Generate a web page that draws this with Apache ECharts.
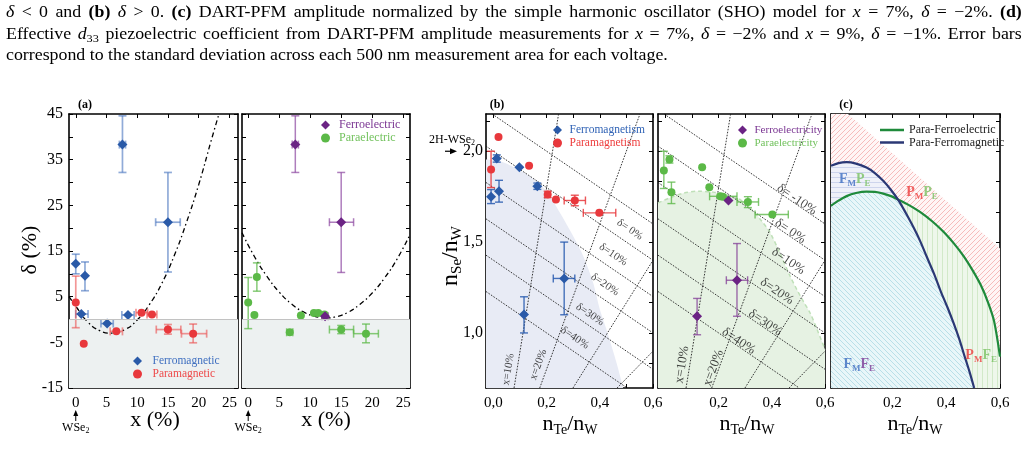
<!DOCTYPE html>
<html>
<head>
<meta charset="utf-8">
<title>Multiferroic phase diagrams</title>
<script src="https://cdn.jsdelivr.net/npm/echarts@6.0.0/dist/echarts.min.js"></script>
<style>
  html, body { margin: 0; padding: 0; background: #fff; }
  #chart { position: absolute; left: 0; top: 0; width: 1028px; height: 472px; }
  .cap { position: absolute; left: 6px; width: 911px; font-family: 'Liberation Serif', serif; font-size: 16px; line-height: 21px; color: #000; white-space: nowrap; transform: scaleX(1.115); transform-origin: 0 0; }
  .just { text-align: justify; text-align-last: justify; white-space: normal; }
  .cap sub { font-size: 11px; line-height: 0; vertical-align: -3px; }
</style>
</head>
<body>
<div id="chart"></div>
<div class="cap just" style="top:1px"><i>δ</i> &lt; 0 and <b>(b)</b> <i>δ</i> &gt; 0. <b>(c)</b> DART-PFM amplitude normalized by the simple harmonic oscillator (SHO) model for <i>x</i> = 7%, <i>δ</i> = −2%. <b>(d)</b></div>
<div class="cap just" style="top:23px">Effective <i>d</i><sub>33</sub> piezoelectric coefficient from DART-PFM amplitude measurements for <i>x</i> = 7%, <i>δ</i> = −2% and <i>x</i> = 9%, <i>δ</i> = −1%. Error bars</div>
<div class="cap" style="top:44px">correspond to the standard deviation across each 500 nm measurement area for each voltage.</div>
<script>
// ---------- panel (a): x (%) vs delta (%) ----------
// rows: x, delta, xLo, xHi, deltaLo, deltaHi  (null = no bar)
const ferromagA = [
  [0.0, 12.2, null, null, 10.0, 14.3],
  [1.5, 9.6, null, null, 6.3, 12.6],
  [0.9, 1.2, 0.0, 2.0, null, null],
  [5.1, -0.9, 4.1, 6.1, null, null],
  [8.5, 1.0, 7.5, 9.5, null, null],
  [7.6, 38.3, 7.1, 8.1, 32.2, 44.6],
  [15.0, 21.3, 13.0, 17.0, 10.4, 32.2]
];
const paramagA = [
  [0.0, 3.7, null, null, -1.8, 9.5],
  [1.3, -5.3, null, null, null, null],
  [6.6, -2.6, 5.6, 7.6, null, null],
  [10.7, 1.5, 9.8, 11.7, null, null],
  [12.4, 1.1, 11.6, 13.2, null, null],
  [15.0, -2.2, 13.1, 17.1, -3.2, -1.1],
  [19.1, -3.1, 17.2, 21.3, -5.1, -1.0]
];
const ferroelA = [
  [7.6, 38.3, 7.1, 8.1, 32.2, 44.6],
  [15.0, 21.3, 13.1, 17.0, 10.3, 32.2],
  [12.4, 0.7, 11.9, 12.9, null, null]
];
const paraelA = [
  [0.0, 3.7, null, null, -2.0, 9.2],
  [1.4, 9.3, null, null, 6.2, 12.4],
  [1.0, 1.0, null, null, null, null],
  [6.7, -2.8, 6.2, 7.2, null, null],
  [8.5, 0.9, null, null, null, null],
  [10.6, 1.4, null, null, null, null],
  [11.3, 1.4, null, null, null, null],
  [12.3, 1.1, null, null, null, null],
  [15.0, -2.2, 13.1, 17.0, -3.1, -1.3],
  [19.0, -3.1, 17.0, 21.0, -5.1, -1.0]
];
// dash-dot guide curves
const guideMag = [[-1.1, 5.0], [0, 2.9], [2, -0.6], [4, -2.5], [5.7, -3.0], [8, -2.2], [10, -0.1],
  [12, 3.3], [14, 7.9], [16, 13.9], [18, 21.2], [20, 29.5], [22, 39.0], [23.3, 45]];
const guideEl = [[-1.0, 19.0], [1, 13.8], [3, 9.5], [5, 6.0], [7, 3.4], [9, 1.6], [11, 0.6], [12.6, 0.35],
  [14, 0.55], [16, 1.5], [18, 3.3], [20, 5.8], [22, 9.1], [24, 13.2], [26.1, 18.6]];

// ---------- panel (b): nTe/nW vs nSe/nW ----------
const ferromagB = [
  [0.0125, 1.960, null, null, 1.94, 1.98],
  [0.0975, 1.912, null, null, null, null],
  [0.165, 1.807, null, null, 1.79, 1.825],
  [-0.009, 1.749, null, null, 1.712, 1.789],
  [0.021, 1.780, null, null, 1.72, 1.84],
  [0.266, 1.300, 0.225, 0.306, 1.10, 1.50],
  [0.115, 1.101, null, null, 1.00, 1.199]
];
const paramagB = [
  [0.019, 2.079, null, null, null, null],
  [-0.009, 1.899, null, null, 1.80, 2.00],
  [0.134, 1.920, null, null, null, null],
  [0.204, 1.762, null, null, 1.745, 1.78],
  [0.235, 1.734, null, null, null, null],
  [0.306, 1.729, 0.266, 0.346, 1.70, 1.758],
  [0.398, 1.661, 0.338, 0.460, null, null]
];
const ferroelB = [
  [0.237, 1.729, null, null, null, null],
  [0.269, 1.290, 0.229, 0.309, 1.092, 1.492],
  [0.119, 1.092, null, null, 0.99, 1.19]
];
const paraelB = [
  [0.015, 1.954, null, null, 1.935, 1.975],
  [-0.006, 1.894, null, null, 1.795, 2.0],
  [0.138, 1.912, null, null, null, null],
  [0.0225, 1.774, null, null, 1.712, 1.83],
  [0.165, 1.802, null, null, null, null],
  [0.206, 1.752, 0.166, 0.269, null, null],
  [0.216, 1.749, null, null, null, null],
  [0.310, 1.721, 0.269, 0.350, 1.69, 1.75],
  [0.402, 1.652, 0.337, 0.462, null, null]
];
const magShade = [[-0.028, 1.955], [0.025, 1.945], [0.08, 1.91], [0.137, 1.862], [0.2, 1.78], [0.25, 1.661],
  [0.3, 1.532], [0.338, 1.422], [0.375, 1.276], [0.4, 1.129], [0.425, 1.019], [0.463, 0.835], [0.488, 0.697]];
const elShade = [[-0.028, 1.716], [0.02, 1.745], [0.07, 1.77], [0.125, 1.78], [0.18, 1.775], [0.23, 1.76],
  [0.281, 1.734], [0.33, 1.67], [0.365, 1.61], [0.394, 1.551], [0.43, 1.44], [0.469, 1.312], [0.494, 1.239],
  [0.52, 1.17], [0.544, 1.11], [0.57, 1.02], [0.6, 0.909]];
// constant-delta and constant-x guide lines (end points)
const deltaLines = [
  [[-0.005, 2.205], [0.6, 1.6]],
  [[-0.028, 2.028], [0.6, 1.4]],
  [[-0.028, 1.828], [0.6, 1.2]],
  [[-0.028, 1.628], [0.6, 1.0]],
  [[-0.028, 1.428], [0.6, 0.8]],
  [[-0.028, 1.228], [0.503, 0.697]]
];
const xLines = [
  [[0.0775, 0.697], [0.245, 2.205]],
  [[0.174, 0.697], [0.551, 2.205]],
  [[0.299, 0.697], [0.6, 1.4]],
  [[0.465, 0.697], [0.6, 0.9]]
];
// label: x, y, text, rotation
const lineLabelsL = [
  [0.513, 1.569, 'δ= 0%', -34], [0.45, 1.431, 'δ=10%', -34], [0.419, 1.266, 'δ=20%', -34],
  [0.363, 1.101, 'δ=30%', -34], [0.306, 0.973, 'δ=40%', -34],
  [0.056, 0.80, 'x=10%', 81], [0.169, 0.826, 'x=20%', 70]
];
const lineLabelsR = [
  [0.494, 1.734, 'δ= -10%', -34], [0.469, 1.56, 'δ= 0%', -34], [0.462, 1.395, 'δ=10%', -34],
  [0.419, 1.229, 'δ=20%', -34], [0.375, 1.056, 'δ=30%', -34], [0.275, 0.955, 'δ=40%', -34],
  [0.0625, 0.826, 'x=10%', 81], [0.181, 0.808, 'x=20%', 70]
];

// ---------- panel (c): phase boundaries ----------
const paraFerromag = [[-0.028, 1.92], [0.0, 1.935], [0.03, 1.94], [0.065, 1.932], [0.104, 1.91], [0.135, 1.88],
  [0.166, 1.837], [0.195, 1.787], [0.223, 1.73], [0.25, 1.66], [0.279, 1.58], [0.305, 1.5], [0.329, 1.415],
  [0.355, 1.325], [0.379, 1.232], [0.405, 1.14], [0.429, 1.048], [0.45, 0.96], [0.466, 0.883], [0.486, 0.79], [0.504, 0.697]];
const paraFerroel = [[-0.028, 1.70], [0.0, 1.728], [0.03, 1.753], [0.065, 1.77], [0.104, 1.778], [0.135, 1.776],
  [0.166, 1.767], [0.195, 1.753], [0.223, 1.733], [0.26, 1.705], [0.304, 1.665], [0.35, 1.612], [0.391, 1.555],
  [0.43, 1.49], [0.466, 1.42], [0.5, 1.34], [0.529, 1.262], [0.555, 1.17], [0.578, 1.065], [0.6, 0.87]];
const crossIdx = 8;                       // both curves meet at nTe/nW = 0.223
const stabilityEdge = [[0.035, 2.205], [0.6, 1.465]];

// ---------- axes ----------
const aXTicks = [0, 5, 10, 15, 20, 25];
const aYTicks = [-15, -10, -5, 0, 5, 10, 15, 20, 25, 30, 35, 40, 45];
const aYLabels = [-15, -5, 5, 15, 25, 35, 45];
const bXTicks = [0, 0.1, 0.2, 0.3, 0.4, 0.5, 0.6];
const bYTicks = [0.8333, 1.0, 1.1667, 1.3333, 1.5, 1.6667, 1.8333, 2.0, 2.1667];
const bYLabels = [1.0, 1.5, 2.0];

const SERIF = 'Liberation Serif';
const BLUE = '#2a5aa8', RED = '#e8383c', GREEN = '#5bb947', PURPLE = '#6b2384';
const DIAMOND = 'path://M0,-5L5,0L0,5L-5,0Z';

const grids = [
  {left: 69, top: 114, width: 169, height: 274},
  {left: 242, top: 114, width: 168, height: 274},
  {left: 486, top: 114, width: 167, height: 274},
  {left: 658, top: 114, width: 167, height: 274},
  {left: 831, top: 114, width: 169, height: 274}
];

const xAxis = [], yAxis = [];
const frameLine = {show: true, onZero: false, lineStyle: {color: '#000', width: 1.6}};
function ticks(vals) {
  return {show: true, inside: true, length: 4, customValues: vals, lineStyle: {color: '#000', width: 1}};
}
const fmtA = v => String(Math.round(v));
const fmtB = v => v.toFixed(1).replace('.', ',');
function frame(gi, xr, yr, xt, xl, yt, yl, fmt, yMargin) {
  xAxis.push({gridIndex: gi, type: 'value', position: 'bottom', min: xr[0], max: xr[1], axisLine: frameLine,
    splitLine: {show: false}, axisTick: ticks(xt),
    axisLabel: {show: xl.length > 0, customValues: xl, formatter: fmt, margin: 8, fontFamily: SERIF, fontSize: 15, color: '#000'}});
  xAxis.push({gridIndex: gi, type: 'value', position: 'top', min: xr[0], max: xr[1], axisLine: frameLine,
    splitLine: {show: false}, axisTick: ticks(xt), axisLabel: {show: false}});
  yAxis.push({gridIndex: gi, type: 'value', position: 'left', min: yr[0], max: yr[1], axisLine: frameLine,
    splitLine: {show: false}, axisTick: ticks(yt),
    axisLabel: {show: yl.length > 0, customValues: yl, formatter: fmt, margin: yMargin, fontFamily: SERIF, fontSize: 16, color: '#000'}});
  yAxis.push({gridIndex: gi, type: 'value', position: 'right', min: yr[0], max: yr[1], axisLine: frameLine,
    splitLine: {show: false}, axisTick: ticks(yt), axisLabel: {show: false}});
}
frame(0, [-1.1, 26.4], [-15, 45], aXTicks, aXTicks, aYTicks, aYLabels, fmtA, 6);
frame(1, [-1.0, 26.1], [-15, 45], aXTicks, aXTicks, aYTicks, [], fmtA, 6);
frame(2, [-0.028, 0.6], [0.697, 2.205], bXTicks, [0, 0.2, 0.4, 0.6], bYTicks, bYLabels, fmtB, 3);
frame(3, [-0.028, 0.6], [0.697, 2.205], bXTicks, [0.2, 0.4, 0.6], bYTicks, [], fmtB, 3);
frame(4, [-0.028, 0.6], [0.697, 2.205], bXTicks, [0.2, 0.4, 0.6], bYTicks, [], fmtB, 3);

// ---------- series helpers ----------
function onGrid(gi, s) { s.xAxisIndex = 2 * gi; s.yAxisIndex = 2 * gi; return s; }

function errorBars(gi, rows, color, w) {
  return onGrid(gi, {
    type: 'custom', silent: true, z: 3,
    data: rows.map(r => [r[0], r[1]]),
    renderItem(params, api) {
      const r = rows[params.dataIndex];
      const st = {stroke: color, lineWidth: w, fill: null};
      const cap = 4;
      const kids = [];
      const seg = (x1, y1, x2, y2) => kids.push({type: 'line', shape: {x1, y1, x2, y2}, style: st});
      if (r[4] != null) {
        const a = api.coord([r[0], r[4]]), b = api.coord([r[0], r[5]]);
        seg(a[0], a[1], b[0], b[1]);
        seg(a[0] - cap, a[1], a[0] + cap, a[1]);
        seg(b[0] - cap, b[1], b[0] + cap, b[1]);
      }
      if (r[2] != null) {
        const a = api.coord([r[2], r[1]]), b = api.coord([r[3], r[1]]);
        seg(a[0], a[1], b[0], b[1]);
        seg(a[0], a[1] - cap, a[0], a[1] + cap);
        seg(b[0], b[1] - cap, b[0], b[1] + cap);
      }
      return {type: 'group', children: kids};
    }
  });
}
function points(gi, name, rows, symbol, size, color) {
  return onGrid(gi, {
    type: 'scatter', name, symbol, symbolSize: size, z: 4,
    itemStyle: {color, opacity: 1},
    data: rows.map(r => [r[0], r[1]])
  });
}
function guide(gi, pts) {
  return onGrid(gi, {
    type: 'line', data: pts, smooth: true, symbol: 'none', silent: true, z: 2,
    lineStyle: {color: '#000', width: 1.3, type: [5, 3, 1.5, 3]},
    markArea: {silent: true, itemStyle: {color: '#edf1f1'}, data: [[{yAxis: -15}, {yAxis: 0}]]},
    markLine: {silent: true, symbol: 'none', label: {show: false}, lineStyle: {color: '#c2c2c2', type: 'solid', width: 1},
      data: [{yAxis: 0}]}
  });
}
function segLine(gi, seg) {
  return onGrid(gi, {
    type: 'line', data: seg, symbol: 'none', silent: true, z: 2,
    lineStyle: {color: '#222', width: 0.9, type: [1.6, 1.4]}
  });
}
function lineLabels(gi, rows, size) {
  return onGrid(gi, {
    type: 'scatter', symbolSize: 0, silent: true, z: 2,
    label: {show: true, position: 'inside', fontFamily: SERIF, fontSize: size, color: '#111'},
    data: rows.map(r => ({value: [r[0], r[1]], label: {formatter: r[2], rotate: r[3]}}))
  });
}
function shade(gi, pts, fill, edge) {
  return onGrid(gi, {
    type: 'line', data: pts, smooth: 0.3, symbol: 'none', silent: true, z: 1,
    lineStyle: edge || {opacity: 0},
    areaStyle: {origin: 'start', color: fill, opacity: 1}
  });
}
function hatch(bg, fg, kind) {
  const s = 5;
  const c = document.createElement('canvas');
  c.width = s; c.height = s;
  const g = c.getContext('2d');
  g.fillStyle = bg; g.fillRect(0, 0, s, s);
  g.strokeStyle = fg; g.lineWidth = 1;
  g.beginPath();
  if (kind === 'h') { g.moveTo(0, 2.5); g.lineTo(s, 2.5); }
  else if (kind === 'v') { g.moveTo(2.5, 0); g.lineTo(2.5, s); }
  else if (kind === '/') {
    g.moveTo(0, s); g.lineTo(s, 0);
    g.moveTo(-1, 1); g.lineTo(1, -1);
    g.moveTo(s - 1, s + 1); g.lineTo(s + 1, s - 1);
  } else {
    g.moveTo(0, 0); g.lineTo(s, s);
    g.moveTo(s - 1, -1); g.lineTo(s + 1, 1);
    g.moveTo(-1, s - 1); g.lineTo(1, s + 1);
  }
  g.stroke();
  return {image: c, repeat: 'repeat'};
}
function region(gi, pts, fill) {
  return onGrid(gi, {
    type: 'custom', silent: true, z: 1, data: [0],
    renderItem(params, api) {
      return {type: 'polygon', shape: {points: pts.map(p => api.coord(p))}, style: {fill}};
    }
  });
}

// ---------- panel (c) regions built from the boundary curves ----------
const yBottom = 0.697, xLeft = -0.028, xRight = 0.6, yTop = 2.205;
const magHead = paraFerromag.slice(0, crossIdx + 1), magTail = paraFerromag.slice(crossIdx);
const elHead = paraFerroel.slice(0, crossIdx + 1), elTail = paraFerroel.slice(crossIdx);
const regPMPE = [[xLeft, yTop], stabilityEdge[0], stabilityEdge[1]]
  .concat(elTail.slice().reverse(), magHead.slice(0, crossIdx).reverse());
const regFMPE = magHead.concat(elHead.slice(0, crossIdx).reverse());
const regFMFE = [[xLeft, yBottom]].concat(elHead, magTail.slice(1));
const regPMFE = elTail.concat([[xRight, yBottom]], magTail.slice(1).reverse());

const series = [
  // (a) left
  guide(0, guideMag),
  errorBars(0, ferromagA, 'rgba(70,115,190,0.6)', 1.7),
  errorBars(0, paramagA, 'rgba(235,80,80,0.6)', 1.7),
  points(0, 'Ferromagnetic', ferromagA, 'diamond', 10, BLUE),
  points(0, 'Paramagnetic', paramagA, 'circle', 8, RED),
  // (a) right
  guide(1, guideEl),
  errorBars(1, ferroelA, 'rgba(140,70,160,0.7)', 1.5),
  errorBars(1, paraelA, 'rgba(95,185,75,0.75)', 1.5),
  points(1, 'Paraelectric', paraelA, 'circle', 8, GREEN),
  points(1, 'Ferroelectric', ferroelA, 'diamond', 10, PURPLE),
  // (b) left
  shade(2, magShade, '#e8ebf5'),
  ...deltaLines.map(s => segLine(2, s)),
  ...xLines.map(s => segLine(2, s)),
  lineLabels(2, lineLabelsL, 11),
  errorBars(2, ferromagB, 'rgba(40,90,175,0.85)', 1.4),
  errorBars(2, paramagB, 'rgba(232,56,60,0.85)', 1.4),
  points(2, 'Ferromagnetism', ferromagB, 'diamond', 10, BLUE),
  points(2, 'Paramagnetism', paramagB, 'circle', 8, RED),
  // (b) right
  shade(3, elShade, '#e6f2e3', {color: '#bfe0b8', width: 1.5, type: [4, 3]}),
  ...deltaLines.map(s => segLine(3, s)),
  ...xLines.map(s => segLine(3, s)),
  lineLabels(3, lineLabelsR, 13),
  errorBars(3, ferroelB, 'rgba(130,60,150,0.75)', 1.4),
  errorBars(3, paraelB, 'rgba(95,185,75,0.8)', 1.4),
  points(3, 'Paraelectricity', paraelB, 'circle', 8, GREEN),
  points(3, 'Ferroelectricity', ferroelB, 'diamond', 10, PURPLE),
  // (c)
  region(4, regPMPE, hatch('#fff6f6', '#f6bcbc', '/')),
  region(4, regFMPE, hatch('#eff1f9', '#cdd4ec', 'h')),
  region(4, regFMFE, hatch('#e8f6f9', '#b8dfe8', '\\')),
  region(4, regPMFE, hatch('#eef7eb', '#d2e9c9', 'v')),
  onGrid(4, {type: 'line', name: 'Para-Ferroelectric', data: paraFerroel, smooth: 0.3, symbol: 'none', z: 3,
    lineStyle: {color: '#1f8a3b', width: 2.2}, itemStyle: {color: '#1f8a3b'}}),
  onGrid(4, {type: 'line', name: 'Para-Ferromagnetic', data: paraFerromag, smooth: 0.3, symbol: 'none', z: 3,
    lineStyle: {color: '#2b3875', width: 2.2}, itemStyle: {color: '#2b3875'}}),
  onGrid(4, {
    type: 'scatter', symbolSize: 0, silent: true, z: 4,
    label: {
      show: true, position: 'inside',
      rich: {
        bF: {color: '#3a6cc0', fontFamily: SERIF, fontWeight: 'bold', fontSize: 14, lineHeight: 18},
        bs: {color: '#3a6cc0', fontFamily: SERIF, fontWeight: 'bold', fontSize: 9, lineHeight: 9, verticalAlign: 'bottom'},
        rF: {color: '#ee3c3c', fontFamily: SERIF, fontWeight: 'bold', fontSize: 14, lineHeight: 18},
        rs: {color: '#ee3c3c', fontFamily: SERIF, fontWeight: 'bold', fontSize: 9, lineHeight: 9, verticalAlign: 'bottom'},
        gF: {color: '#79c263', fontFamily: SERIF, fontWeight: 'bold', fontSize: 14, lineHeight: 18},
        gs: {color: '#79c263', fontFamily: SERIF, fontWeight: 'bold', fontSize: 9, lineHeight: 9, verticalAlign: 'bottom'},
        pF: {color: '#7a3a96', fontFamily: SERIF, fontWeight: 'bold', fontSize: 14, lineHeight: 18},
        ps: {color: '#7a3a96', fontFamily: SERIF, fontWeight: 'bold', fontSize: 9, lineHeight: 9, verticalAlign: 'bottom'}
      }
    },
    data: [
      {value: [0.06, 1.845], label: {formatter: '{bF|F}{bs|M}{gF|P}{gs|E}'}},
      {value: [0.31, 1.773], label: {formatter: '{rF|P}{rs|M}{gF|P}{gs|E}'}},
      {value: [0.077, 0.826], label: {formatter: '{bF|F}{bs|M}{pF|F}{ps|E}'}},
      {value: [0.53, 0.875], label: {formatter: '{rF|P}{rs|M}{gF|F}{gs|E}'}}
    ]
  })
];

function legendBox(items, left, top, itemWidth, itemHeight, fontSize, extra) {
  return Object.assign({
    orient: 'vertical', left, top, itemWidth, itemHeight, itemGap: 1, padding: 0, selectedMode: false,
    symbolKeepAspect: true,
    textStyle: {fontFamily: SERIF, fontSize, lineHeight: 12},
    data: items.map(it => Object.assign({name: it[0], textStyle: {color: it[1]}}, it[2] ? {icon: it[2]} : {}))
  }, extra || {});
}

const chart = echarts.init(document.getElementById('chart'));
chart.setOption({
  backgroundColor: '#fff',
  animation: false,
  grid: grids,
  xAxis, yAxis,
  legend: [
    legendBox([['Ferromagnetic', '#3f6fc0', DIAMOND], ['Paramagnetic', '#ee4a4a', 'circle']], 133, 355, 20, 9, 11.5),
    legendBox([['Ferroelectric', '#7a3592', DIAMOND], ['Paraelectric', '#73c25e', 'circle']], 321, 119, 17, 9, 12),
    legendBox([['Ferromagnetism', '#2f62b5', DIAMOND], ['Paramagnetism', '#ee3c3c', 'circle']], 553, 124, 14, 9, 11.5),
    legendBox([['Ferroelectricity', '#7a3592', DIAMOND], ['Paraelectricity', '#73c25e', 'circle']], 738, 124, 14, 9, 11),
    legendBox([['Para-Ferroelectric', '#222', 'rect'], ['Para-Ferromagnetic', '#222', 'rect']], 880, 124, 24, 2.5, 12,
      {itemGap: 0.5})
  ],
  series
});

// ---------- annotations placed from data coordinates ----------
const px = (gi, p) => chart.convertToPixel({gridIndex: gi}, p);
const txt = (x, y, text, size, extra) => Object.assign({
  type: 'text', x, y, silent: true,
  style: Object.assign({text, fontFamily: SERIF, fontSize: size, fill: '#000', align: 'center', verticalAlign: 'middle'}, extra || {})
});
const subRich = {
  m: {fontFamily: SERIF, fontSize: 22, lineHeight: 26},
  s: {fontFamily: SERIF, fontSize: 14, lineHeight: 10, verticalAlign: 'bottom'}
};
const subRichY = {
  m: {fontFamily: SERIF, fontSize: 24, lineHeight: 28},
  s: {fontFamily: SERIF, fontSize: 15, lineHeight: 10, verticalAlign: 'bottom'}
};
const graphics = [
  txt(85, 105, '(a)', 12, {fontWeight: 'bold'}),
  txt(497, 105, '(b)', 12, {fontWeight: 'bold'}),
  txt(846, 105, '(c)', 12, {fontWeight: 'bold'}),
  txt(155, 420, 'x (%)', 22),
  txt(326, 420, 'x (%)', 22),
  Object.assign(txt(30, 250, 'δ (%)', 22), {rotation: Math.PI / 2}),
  txt(570, 424, '{m|n}{s|Te}{m|/n}{s|W}', 22, {rich: subRich}),
  txt(747, 424, '{m|n}{s|Te}{m|/n}{s|W}', 22, {rich: subRich}),
  txt(915, 424, '{m|n}{s|Te}{m|/n}{s|W}', 22, {rich: subRich}),
  Object.assign(txt(451, 256, '{m|n}{s|Se}{m|/n}{s|W}', 24, {rich: subRichY}), {rotation: Math.PI / 2})
];
[0, 1].forEach(gi => {
  const p = px(gi, [0, -15]);
  const x = p[0];
  graphics.push({type: 'polygon', silent: true, shape: {points: [[x, 410], [x - 2.5, 416], [x + 2.5, 416]]}, style: {fill: '#000'}});
  graphics.push({type: 'line', silent: true, shape: {x1: x, y1: 415, x2: x, y2: 421}, style: {stroke: '#000', lineWidth: 1}});
  graphics.push(txt(x, 428, '{a|WSe}{b|2}', 12, {rich: {
    a: {fontFamily: SERIF, fontSize: 12, lineHeight: 14},
    b: {fontFamily: SERIF, fontSize: 8, lineHeight: 6, verticalAlign: 'bottom'}
  }}));
});
{
  const p = px(2, [-0.028, 2.0]);
  const y = p[1];
  graphics.push({type: 'polygon', silent: true, shape: {points: [[457, y], [450, y - 3], [450, y + 3]]}, style: {fill: '#000'}});
  graphics.push({type: 'line', silent: true, shape: {x1: 445, y1: y, x2: 451, y2: y}, style: {stroke: '#000', lineWidth: 1.2}});
  graphics.push(txt(452, y - 11, '{a|2H-WSe}{b|2}', 12, {rich: {
    a: {fontFamily: SERIF, fontSize: 12, lineHeight: 14},
    b: {fontFamily: SERIF, fontSize: 8, lineHeight: 6, verticalAlign: 'bottom'}
  }}));
}
chart.setOption({graphic: graphics});
</script>
</body>
</html>
